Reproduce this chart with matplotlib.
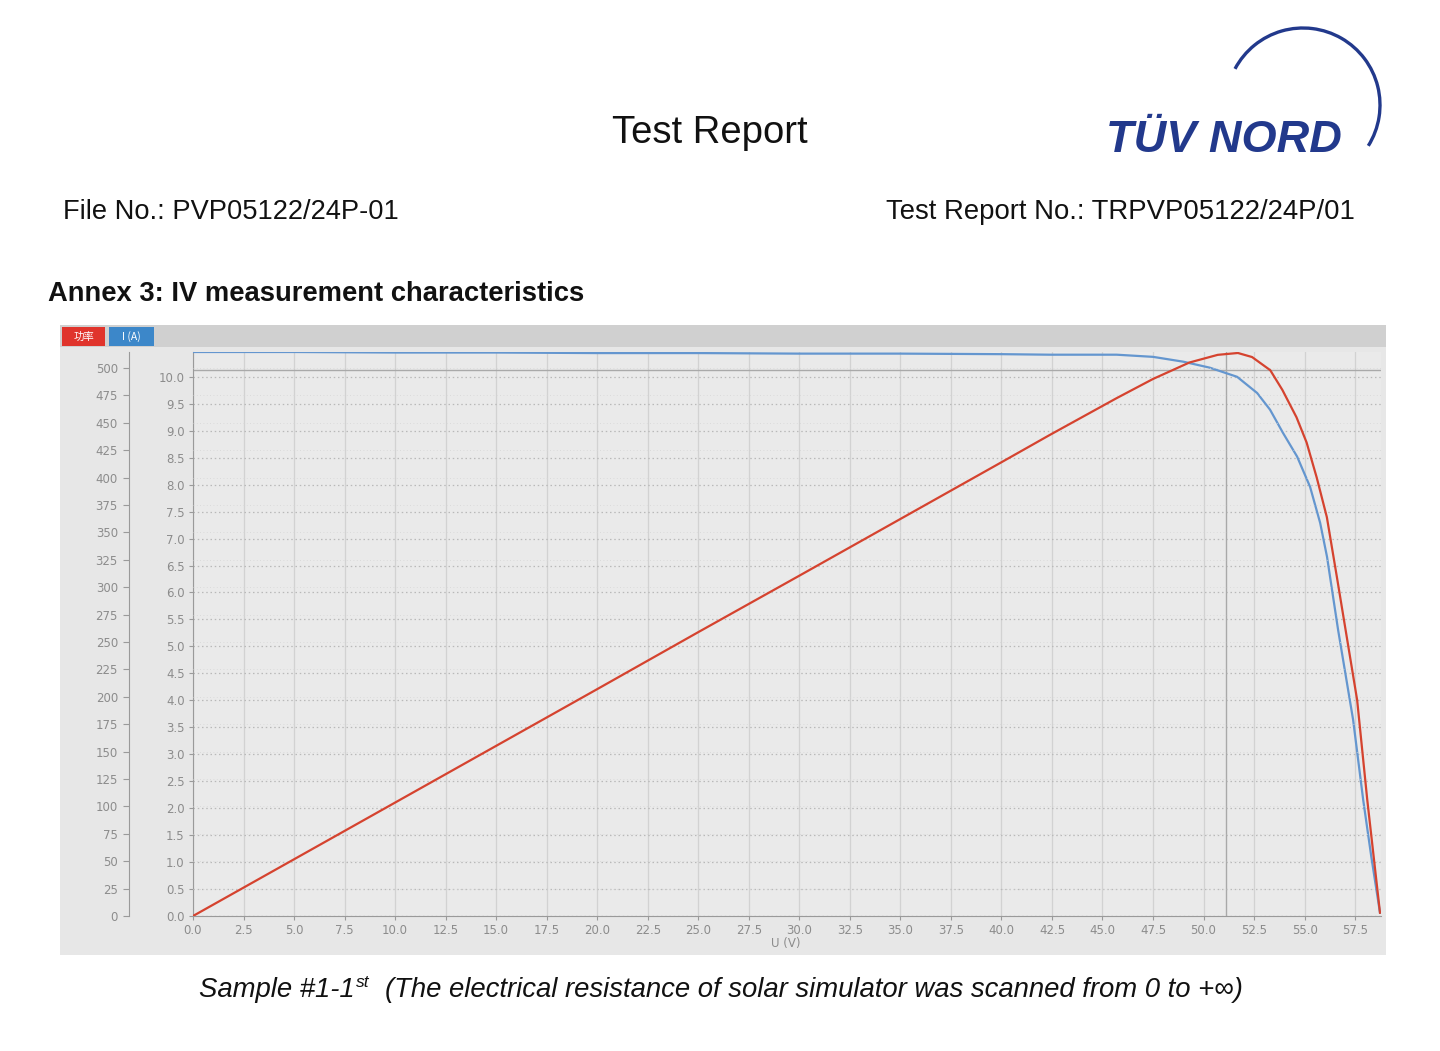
import matplotlib
matplotlib.use("Agg")
import matplotlib.pyplot as plt
from matplotlib.patches import Rectangle, Arc
import numpy as np

# I-V curve (U in V, I in A)
u_i = [0, 5, 10, 15, 20, 25, 30, 35, 40, 42.4, 45.7, 47.5, 49.0, 50.3, 51.66,
       52.65, 53.29, 53.93, 54.63, 55.27, 55.77, 56.11, 56.66, 57.4, 57.9, 58.3, 58.73]
i_a = [10.46, 10.46, 10.45, 10.45, 10.44, 10.44, 10.43, 10.43, 10.42, 10.41, 10.41,
       10.37, 10.28, 10.17, 10.00, 9.70, 9.39, 8.96, 8.52, 7.96, 7.29, 6.66, 5.30,
       3.64, 2.15, 1.10, 0.06]

# power curve (U in V, P in W)
u_p = [0, 10, 20, 25, 30, 40, 42.4, 45.7, 47.5, 48.7, 49.3, 50.7, 51.7, 52.4, 53.3,
       53.9, 54.6, 55.1, 55.6, 56.1, 56.6, 57.1, 57.6, 58.1, 58.73]
p_w = [0, 103.5, 207, 259, 310.5, 414, 439, 472.5, 490, 500, 505, 512, 513.7, 510,
       498, 480, 455, 432, 400, 364, 309, 253, 197, 106, 3]

# cursor lines drawn by the measuring software
cursor_u = 51.1
cursor_i = 10.13

u_ticks = np.arange(0, 58, 2.5)
i_ticks = np.arange(0, 10.01, 0.5)
p_ticks = np.arange(0, 501, 25)

legend_names = ["功率", "I (A)"]
legend_colors = ["#e0342c", "#3c87c9"]

RED = "#d5432f"
BLUE = "#6496cf"
GREY = "#8c8c8c"

W, H = 1440, 1051
fig = plt.figure(figsize=(W / 100, H / 100), dpi=100)
fig.patch.set_facecolor("white")

# page layer in pixel coordinates
bg = fig.add_axes([0, 0, 1, 1])
bg.set_xlim(0, W)
bg.set_ylim(H, 0)
bg.axis("off")

bg.text(710, 143, "Test Report", fontsize=27.5, family="Liberation Sans",
        ha="center", va="baseline", color="#111111")
bg.text(63, 219, "File No.: PVP05122/24P-01", fontsize=19.6,
        family="Liberation Sans", va="baseline", color="#111111")
bg.text(1355, 219, "Test Report No.: TRPVP05122/24P/01", fontsize=19.8,
        family="Liberation Sans", ha="right", va="baseline", color="#111111")
bg.text(48, 301, "Annex 3: IV measurement characteristics", fontsize=19.7,
        family="Liberation Sans", weight="bold", va="baseline", color="#111111")

# logo
bg.text(1106, 152, "TÜV NORD", fontsize=32.5, family="Liberation Sans",
        weight="heavy", style="italic", va="baseline", color="#22398c")
bg.add_patch(Arc((1303, 105), 154, 154, theta1=-152, theta2=32,
                 color="#22398c", lw=2.4))

# chart panel
bg.add_patch(Rectangle((60, 325), 1326, 630, facecolor="#e7e7e7", edgecolor="none"))
bg.add_patch(Rectangle((60, 325), 1326, 22, facecolor="#d0d0d0", edgecolor="none"))
x0 = 62
for name, col, w in zip(legend_names, legend_colors, [43, 45]):
    bg.add_patch(Rectangle((x0, 327), w, 19, facecolor=col, edgecolor="none"))
    bg.text(x0 + w / 2, 337, name, fontsize=7.5, color="white", ha="center",
            va="center", family=["Noto Sans CJK SC", "DejaVu Sans"])
    x0 += w + 4

bg.text(786, 943, "U (V)", fontsize=8.5, color=GREY, ha="center", va="center")

# caption with superscript
cap_y = 997
t1 = bg.text(199, cap_y, "Sample #1-1", fontsize=19.8, style="italic",
             family="Liberation Sans", va="baseline", color="#111111")
fig.canvas.draw()
r = fig.canvas.get_renderer()
ext = t1.get_window_extent(r)
t2 = bg.text(ext.x1 + 1, cap_y - 10, "st", fontsize=12.5, style="italic",
             family="Liberation Sans", va="baseline", color="#111111")
ext2 = t2.get_window_extent(r)
bg.text(ext2.x1 + 16, cap_y,
        "(The electrical resistance of solar simulator was scanned from 0 to +∞)",
        fontsize=19.8, style="italic", family=["Liberation Sans", "DejaVu Sans"],
        va="baseline", color="#111111")

# plot area
left, right, top, bottom = 193, 1381, 352, 916
ax = fig.add_axes([left / W, 1 - bottom / H, (right - left) / W, (bottom - top) / H])
ax.set_facecolor("#eaeaea")
ax.set_xlim(0, 58.78)
ax.set_ylim(0, 10.46)
ax.set_xticks(u_ticks)
ax.set_xticklabels(["%.1f" % v for v in u_ticks])
ax.set_yticks(i_ticks)
ax.set_yticklabels(["%.1f" % v for v in i_ticks])
ax.grid(axis="x", color="#d2d2d2", lw=0.9, ls="-")
ax.grid(axis="y", color="#b9b9b9", lw=0.9, ls=(0, (1.2, 2.2)))
ax.axvline(cursor_u, color="#a9a9a9", lw=1.0)
ax.axhline(cursor_i, color="#a9a9a9", lw=1.0)
for s in ["top", "right"]:
    ax.spines[s].set_visible(False)
for s in ["left", "bottom"]:
    ax.spines[s].set_color("#9a9a9a")
ax.tick_params(colors="#9a9a9a", labelcolor=GREY, labelsize=8.5, length=3, pad=3)
ax.plot(u_i, i_a, color=BLUE, lw=1.6, zorder=3)

ax2 = ax.twinx()
ax2.set_ylim(0, 514.6)
ax2.set_yticks(p_ticks)
ax2.set_yticklabels(["%d" % v for v in p_ticks])
ax2.yaxis.tick_left()
ax2.spines["left"].set_position(("axes", (129 - left) / (right - left)))
ax2.spines["left"].set_color("#9a9a9a")
for s in ["top", "right", "bottom"]:
    ax2.spines[s].set_visible(False)
ax2.tick_params(colors="#9a9a9a", labelcolor=GREY, labelsize=8.5, length=4, pad=4)
ax2.grid(axis="y", color="#d6d6d6", lw=0.6, ls=(0, (1, 3)))
ax2.plot(u_p, p_w, color=RED, lw=1.6, zorder=4)

fig.savefig("out.png", dpi=100)
